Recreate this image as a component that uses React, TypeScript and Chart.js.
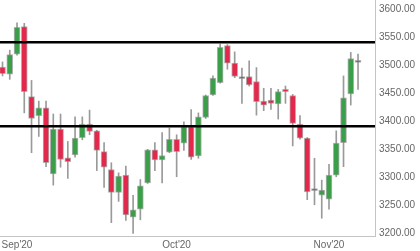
import React, { useEffect, useRef } from "react";
import { Chart, registerables } from "chart.js";

Chart.register(...registerables);

// OHLC candles, one per trading day
const opens = [3497, 3484, 3520, 3569, 3444, 3410, 3424, 3306, 3386, 3335, 3340, 3371, 3395, 3383, 3346, 3314, 3273, 3304, 3229, 3243, 3290, 3349, 3331, 3345, 3368, 3361, 3390, 3338, 3407, 3447, 3469, 3535, 3504, 3480, 3480, 3471, 3436, 3438, 3431, 3457, 3446, 3395, 3370, 3280, 3268, 3261, 3304, 3362, 3449, 3509];
const highs = [3506, 3527, 3576, 3575, 3473, 3436, 3436, 3413, 3413, 3364, 3408, 3408, 3420, 3384, 3362, 3326, 3308, 3320, 3268, 3296, 3350, 3362, 3380, 3388, 3376, 3399, 3421, 3415, 3447, 3481, 3538, 3537, 3524, 3495, 3508, 3496, 3459, 3459, 3457, 3463, 3448, 3410, 3371, 3334, 3295, 3323, 3383, 3481, 3523, 3520];
const lows = [3481, 3475, 3518, 3415, 3344, 3373, 3319, 3286, 3318, 3298, 3336, 3367, 3376, 3312, 3282, 3219, 3257, 3223, 3200, 3224, 3289, 3312, 3290, 3344, 3301, 3348, 3332, 3334, 3405, 3446, 3468, 3493, 3478, 3432, 3463, 3411, 3419, 3421, 3404, 3432, 3356, 3368, 3260, 3251, 3227, 3243, 3301, 3319, 3429, 3457];
const closes = [3485, 3519, 3568, 3453, 3405, 3424, 3326, 3386, 3332, 3328, 3370, 3395, 3382, 3348, 3318, 3273, 3302, 3233, 3242, 3285, 3349, 3331, 3339, 3368, 3346, 3390, 3336, 3408, 3446, 3477, 3532, 3504, 3480, 3476, 3465, 3435, 3429, 3432, 3453, 3453, 3396, 3370, 3274, 3276, 3277, 3304, 3361, 3442, 3512, 3505];

// Horizontal support / resistance levels
const levels = [3541, 3391];

// Month tick labels (candle index where each month label sits)
const monthTickIndex = [2, 24, 45];
const monthTickLabels = ["Sep'20", "Oct'20", "Nov'20"];

// Price axis ticks
const priceTicks = [3200, 3250, 3300, 3350, 3400, 3450, 3500, 3550, 3600];

const X_MIN = -0.345;
const X_MAX = 51.34;
const Y_MIN = 3195.2;
const Y_MAX = 3616.6;

const GREEN = "#3b9f4a";
const RED = "#e2294c";

export default function App() {
  const ref = useRef<HTMLCanvasElement | null>(null);

  useEffect(() => {
    if (!ref.current) return;
    const up = opens.map((o, i) => closes[i] >= o);
    const chart = new Chart(ref.current, {
      type: "bar",
      data: {
        datasets: [
          ...levels.map((lv) => ({
            type: "line" as const,
            data: [
              { x: X_MIN, y: lv },
              { x: X_MAX, y: lv },
            ],
            borderColor: "#000000",
            borderWidth: 2.5,
            pointRadius: 0,
            order: 0,
          })),
          {
            type: "bar" as const,
            data: opens.map((o, i) => ({ x: i, y: [o, closes[i]] })),
            backgroundColor: up.map((u) => (u ? GREEN : RED)),
            borderColor: "rgba(130,130,130,0.6)",
            borderWidth: 1,
            borderSkipped: false,
            barThickness: 6,
            minBarLength: 2,
            grouped: false,
            order: 1,
          },
          {
            type: "bar" as const,
            data: lows.map((l, i) => ({ x: i, y: [l, highs[i]] })),
            backgroundColor: "#9a9a9a",
            borderWidth: 0,
            barThickness: 1,
            grouped: false,
            order: 2,
          },
        ] as any,
      },
      options: {
        animation: false,
        responsive: true,
        maintainAspectRatio: false,
        layout: { padding: 0 },
        plugins: { legend: { display: false }, tooltip: { enabled: false } },
        scales: {
          x: {
            type: "linear",
            offset: false,
            bounds: "data",
            min: X_MIN,
            max: X_MAX,
            grid: { display: false, drawTicks: false, offset: false },
            border: { display: true, color: "#c4c4c4", width: 1 },
            afterBuildTicks: (scale: any) => {
              scale.ticks = monthTickIndex.map((v) => ({ value: v }));
            },
            afterFit: (scale: any) => {
              scale.height = 15;
              scale.paddingLeft = 0;
              scale.paddingRight = 0;
            },
            ticks: {
              autoSkip: false,
              maxRotation: 0,
              padding: 3,
              color: "#666666",
              font: { family: "Liberation Sans, Arial, sans-serif", size: 10 },
              callback: (v: any) => {
                const k = monthTickIndex.indexOf(Number(v));
                return k >= 0 ? monthTickLabels[k] : "";
              },
            },
          },
          y: {
            type: "linear",
            position: "right",
            min: Y_MIN,
            max: Y_MAX,
            grid: { display: false, drawTicks: false },
            border: { display: true, color: "#c4c4c4", width: 1 },
            afterBuildTicks: (scale: any) => {
              scale.ticks = priceTicks.map((v) => ({ value: v }));
            },
            afterFit: (scale: any) => {
              scale.width = 45;
              scale.paddingTop = 0;
              scale.paddingBottom = 0;
            },
            ticks: {
              padding: 4,
              color: "#666666",
              font: { family: "Liberation Sans, Arial, sans-serif", size: 10 },
              callback: (v: any) => Number(v).toFixed(2),
            },
          },
        },
      } as any,
    });
    return () => chart.destroy();
  }, []);

  return (
    <div style={{ position: "fixed", left: 0, top: 0, width: 420, height: 251, background: "#ffffff" }}>
      <canvas ref={ref} />
    </div>
  );
}
